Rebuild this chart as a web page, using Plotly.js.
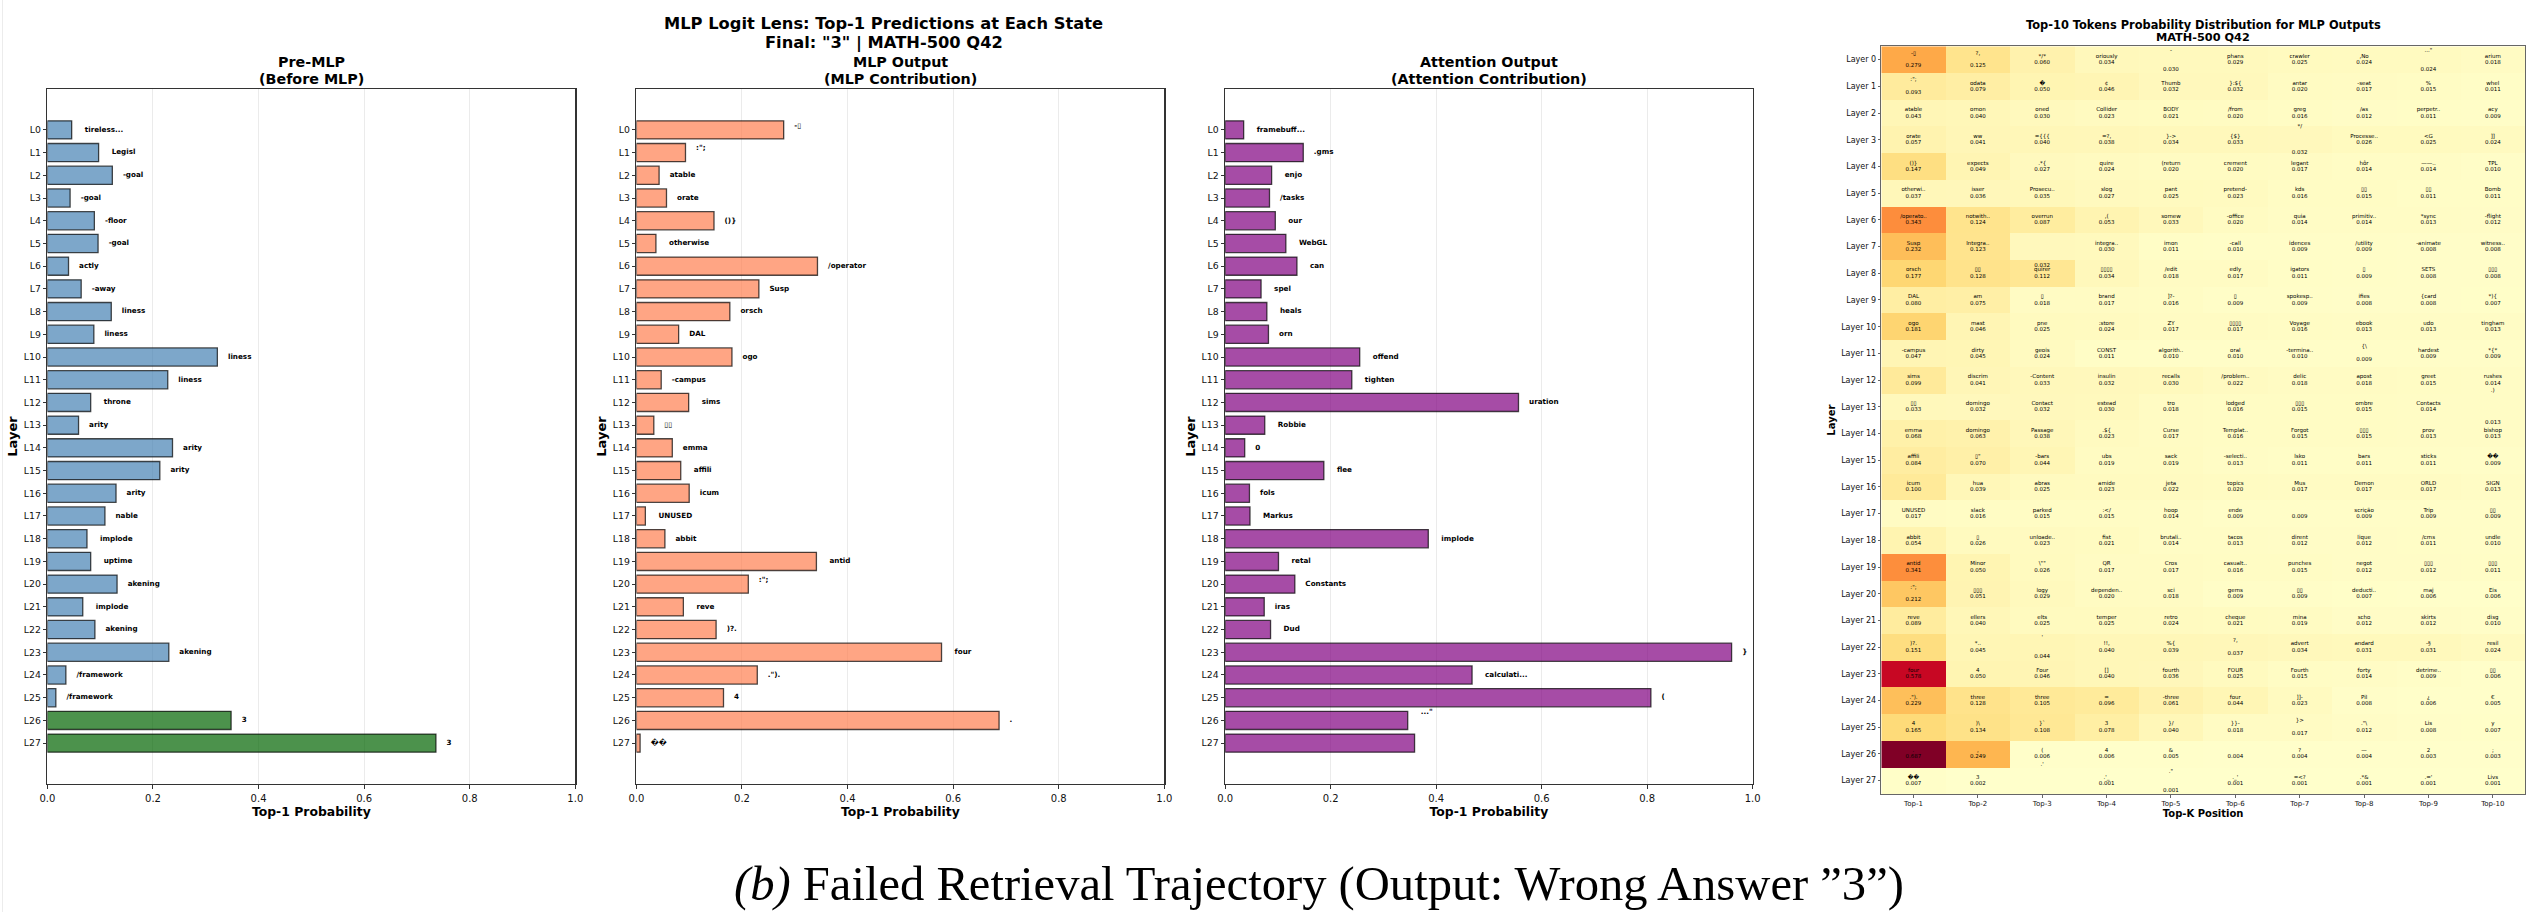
<!DOCTYPE html>
<html>
<head>
<meta charset="utf-8">
<script src="https://cdn.plot.ly/plotly-3.0.1.min.js"></script>
<style>html,body{margin:0;padding:0;background:#fff}#chart{width:2532px;height:912px}</style>
</head>
<body>
<div id="chart"></div>
<script>
// ---------- bar panel data ----------
const layerLabels = ["L0","L1","L2","L3","L4","L5","L6","L7","L8","L9","L10","L11","L12","L13","L14","L15","L16","L17","L18","L19","L20","L21","L22","L23","L24","L25","L26","L27"];
const preMlpValues = [0.046,0.097,0.123,0.043,0.089,0.096,0.040,0.064,0.121,0.088,0.322,0.228,0.082,0.059,0.237,0.213,0.130,0.109,0.075,0.082,0.132,0.067,0.090,0.230,0.035,0.016,0.348,0.736];
const preMlpTokens = ["\u00A0tireless...","\u00A0Legisl","-goal","-goal","-floor","-goal","actly","-away","liness","liness","liness","liness","\u00A0throne","arity","arity","arity","arity","nable","\u00A0implode","\u00A0uptime","akening","\u00A0implode","akening","akening","/framework","/framework","3","3"];
const mlpValues = [0.279,0.093,0.043,0.057,0.147,0.037,0.343,0.232,0.177,0.080,0.181,0.047,0.099,0.033,0.068,0.084,0.100,0.017,0.054,0.341,0.212,0.089,0.151,0.578,0.229,0.165,0.687,0.007];
const mlpTokens = ["-▯\n",":\";\n","atable","orate","()}","\u00A0otherwise","/operator","Susp","orsch","DAL","ogo","-campus","\u00A0sims","▯▯","emma","\u00A0affili","icum","\u00A0UNUSED","abbit","\u00A0antid",":\";\n","\u00A0reve",")?.","\u00A0four",".\").","4",".","��"];
const attnValues = [0.035,0.148,0.088,0.084,0.095,0.115,0.136,0.068,0.079,0.082,0.255,0.240,0.556,0.075,0.037,0.187,0.046,0.047,0.385,0.101,0.132,0.074,0.086,0.960,0.468,0.807,0.346,0.359];
const attnTokens = ["\u00A0framebuff...",".gms","\u00A0enjo","/tasks","\u00A0our","\u00A0WebGL","\u00A0can","\u00A0spel","\u00A0heals","orn","\u00A0offend","\u00A0tighten","uration","\u00A0Robbie","0","\u00A0flee","fols","\u00A0Markus","\u00A0implode","\u00A0retal","Constants","iras","\u00A0Dud","}","\u00A0calculati...","(","\u00A0...\"\n\n",""];
const preMlpColors = ["#4682B4","#006400"];
const barXTicks = [0,0.2,0.4,0.6,0.8,1.0];
const barXTickText = ["0.0","0.2","0.4","0.6","0.8","1.0"];

// ---------- heatmap data ----------
const heatRowLabels = ["Layer 0","Layer 1","Layer 2","Layer 3","Layer 4","Layer 5","Layer 6","Layer 7","Layer 8","Layer 9","Layer 10","Layer 11","Layer 12","Layer 13","Layer 14","Layer 15","Layer 16","Layer 17","Layer 18","Layer 19","Layer 20","Layer 21","Layer 22","Layer 23","Layer 24","Layer 25","Layer 26","Layer 27"];
const heatColLabels = ["Top-1","Top-2","Top-3","Top-4","Top-5","Top-6","Top-7","Top-8","Top-9","Top-10"];
const heatValues = [
[.279,.125,.060,.034,.030,.029,.025,.024,.024,.018],
[.093,.079,.050,.046,.032,.032,.020,.017,.015,.011],
[.043,.040,.030,.023,.021,.020,.016,.012,.011,.009],
[.057,.041,.040,.038,.034,.033,.032,.026,.025,.024],
[.147,.049,.027,.024,.020,.020,.017,.014,.014,.010],
[.037,.036,.035,.027,.025,.023,.016,.015,.011,.011],
[.343,.124,.087,.053,.033,.020,.014,.014,.013,.012],
[.232,.123,.032,.030,.011,.010,.009,.009,.008,.008],
[.177,.128,.112,.034,.018,.017,.011,.009,.008,.008],
[.080,.075,.018,.017,.016,.009,.009,.008,.008,.007],
[.181,.046,.025,.024,.017,.017,.016,.013,.013,.013],
[.047,.045,.024,.011,.010,.010,.010,.009,.009,.009],
[.099,.041,.033,.032,.030,.022,.018,.018,.015,.014],
[.033,.032,.032,.030,.018,.016,.015,.015,.014,.013],
[.068,.063,.038,.023,.017,.016,.015,.015,.013,.013],
[.084,.070,.044,.019,.019,.013,.011,.011,.011,.009],
[.100,.039,.025,.023,.022,.020,.017,.017,.017,.013],
[.017,.016,.015,.015,.014,.009,.009,.009,.009,.009],
[.054,.026,.023,.021,.014,.013,.012,.012,.011,.010],
[.341,.050,.026,.017,.017,.016,.015,.012,.012,.011],
[.212,.051,.029,.020,.018,.009,.009,.007,.006,.006],
[.089,.040,.025,.025,.024,.021,.019,.012,.012,.010],
[.151,.045,.044,.040,.039,.037,.034,.031,.031,.024],
[.578,.050,.046,.040,.036,.025,.015,.014,.009,.006],
[.229,.128,.105,.096,.061,.044,.023,.008,.006,.005],
[.165,.134,.108,.078,.040,.018,.017,.012,.008,.007],
[.687,.249,.006,.006,.005,.004,.004,.004,.003,.003],
[.007,.002,.001,.001,.001,.001,.001,.001,.001,.001]
];
// A "\n" inside a token is a blank line, as in the source labels.
const heatTokens = [
["-▯\n","?,\n","*/*","oriously","-\n\n","phans","crawler",",No","...\"\n\n","arium"],
[":\";\n","odata","�","¢","Thumb","}:${","antar","-seat","%","whel"],
["atable","omon","oned","Collider","BODY","/from","greg","/as","perpetr..","acy"],
["orate","ww","={{{","=?,","}->","{$}","*/\n\n\n","Processe..","<G","]]"],
["()}","expects",".*{","quire","(return","crement","legant","hôr","——..","TPL"],
["otherwi..","isser","Prosecu..","slog","pant","pretend-","kds","▯▯","▯▯","Bomb"],
["/operato..","notwith..","overrun",",(","somew","-office","quia","primitiv..","*sync","-flight"],
["Susp","Integra..","\n\n\n\n\n","integra..","imon","-call","idences","/utility","-animate","witness.."],
["orsch","▯▯","quirer","▯▯▯▯","/edit","edly","igators","▯","SETS","▯▯▯"],
["DAL","am","▯","brand","]?-","▯","spokesp..","ifies","{card","*){"],
["ogo","mast","pne",":store","ZY","▯▯▯▯","Voyage","ebook","udo","tingham"],
["-campus","dirty","geois","CONST","algorith..","oral","-termina..","{\\\n","hardest","*{*"],
["sims","discrim","-Content","insulin","recalls","/problem..","delic","apost","greet","rushes"],
["▯▯","domingo","Contact","estead","tro","lodged","▯▯▯","ombre","Contacts",".)\n\n\n\n"],
["emma","domingo","Passage",".${","Curse","Templat..","Forgot","▯▯▯","prov","bishop"],
["affili","▯\"","-bars","ubs","sack","-selecti..","lsko","bars","sticks","��"],
["icum","hua","abras","amide","jeta","topics","Mus","Demon","ORLD","SIGN"],
["UNUSED","slack","parked",":</","hoop","ende","","scrição","Trip","▯▯"],
["abbit","▯","unloade..","fist","brutali..","tacos","dirent","lique","/cms","undle"],
["antid","Minor","\\\"\"","QR","Cros","casualt..","punches","negot","▯▯▯","▯▯▯"],
[":\";\n","▯▯▯","logy","dependen..","sci","gems","▯▯","deducti..","maj","Eis"],
["reve","ellers","elts","temper","retro","cheque","mina","scho","skirts","disg"],
[")?.","*..","'\n\n","!!,","%{","?,\n","advert","andard","-§","resil"],
["four","4","Four","[]","fourth","FOUR","Fourth","forty","detrime..","▯▯"],
[".\").","three","three","=","-three","four","]]-","Pil","¿","€"],
["4",")\\","}`","3","}/","}}-","}>\n",".\"\\","Lis","y"],
[".",",","(","4","&","","?","—","2",";"],
["��","3",".'\n\n\n\n",".'_",".\"\n\n","._'","=<?",".*&",".='","Livs"]
];
const heatColorStops = ["#ffffcc","#ffeda0","#fed976","#feb24c","#fd8d3c","#fc4e2a","#e31a1c","#bd0026","#800026"];

// ---------- layout constants (pixels) ----------
const W = 2532, H = 912;
const panels = [
  {left:47.4, right:575.3},
  {left:636.4, right:1164.3},
  {left:1225.2, right:1752.7}
];
const heat = {left:1881.3, right:2525, top:46.3, bottom:794};
const barTop = 89, barBottom = 784;
const fam = "DejaVu Sans";
const px = v => v / W, py = v => 1 - v / H;

const yIdx = layerLabels.map((_, i) => i);
const labelGap = 0.02;
const barRowPx = (barBottom - barTop) / 30.6;
const barLinePx = 8.3;
const newlines = s => (s.match(/\n/g) || []).length;
const firstLine = s => s.split("\n")[0];

function barPanel(values, tokens, colors, n) {
  const ax = n === 0 ? "" : String(n + 1);
  return [
    {type:"bar", orientation:"h", x:values, y:yIdx, xaxis:"x"+ax, yaxis:"y"+ax, width:0.8,
     marker:{color:colors, line:{color:"rgba(0,0,0,0.7)", width:1.3}}, hoverinfo:"x+y"},
    {type:"scatter", mode:"text", xaxis:"x"+ax, yaxis:"y"+ax,
     x:values.map(v => v + labelGap),
     y:yIdx.map(i => i - newlines(tokens[i]) * barLinePx / 2 / barRowPx),
     text:tokens.map(firstLine), textposition:"middle right", cliponaxis:false,
     textfont:{family:fam, size:7.2, color:"#000", weight:700}, hoverinfo:"skip"}
  ];
}
const hexA = (c, a) => {
  const n = parseInt(c.slice(1), 16);
  return `rgba(${n >> 16},${(n >> 8) & 255},${n & 255},${a})`;
};
const preColors = layerLabels.map((_, i) => hexA(preMlpColors[preMlpTokens[i] === "3" ? 1 : 0], 0.7));
const mlpColors = layerLabels.map(() => "rgba(255,127,80,0.7)");
const attnColors = layerLabels.map(() => "rgba(128,0,128,0.7)");

// heatmap cell text: first line = token, last line = value, block centred on the row
const heatLinePx = 6.33;
const heatRowPx = (heat.bottom - heat.top) / 28;
const tx = [], tyTok = [], tyVal = [], tTok = [], tVal = [];
heatValues.forEach((row, r) => row.forEach((v, c) => {
  const tok = heatTokens[r][c];
  const half = (newlines(tok) + 1) / 2 * heatLinePx / heatRowPx;
  tx.push(c);
  tyTok.push(r - half);
  tyVal.push(r + half);
  tTok.push(firstLine(tok));
  tVal.push(v.toFixed(3));
}));
const heatFont = {family:fam, size:5.5, color:"#000"};

const traces = [
  ...barPanel(preMlpValues, preMlpTokens, preColors, 0),
  ...barPanel(mlpValues, mlpTokens, mlpColors, 1),
  ...barPanel(attnValues, attnTokens, attnColors, 2),
  {type:"heatmap", z:heatValues, x:heatColLabels.map((_, i) => i), y:heatRowLabels.map((_, i) => i),
   xaxis:"x4", yaxis:"y4", zmin:0, zmax:0.687, showscale:false, hoverinfo:"z",
   colorscale:heatColorStops.map((c, i) => [i / (heatColorStops.length - 1), c])},
  {type:"scatter", mode:"text", x:tx, y:tyTok, text:tTok, xaxis:"x4", yaxis:"y4",
   textposition:"middle center", textfont:heatFont, cliponaxis:false, hoverinfo:"skip"},
  {type:"scatter", mode:"text", x:tx, y:tyVal, text:tVal, xaxis:"x4", yaxis:"y4",
   textposition:"middle center", textfont:heatFont, cliponaxis:false, hoverinfo:"skip"}
];

const barXAxis = p => ({
  domain:[px(p.left), px(p.right)], range:[0,1], tickmode:"array", tickvals:barXTicks, ticktext:barXTickText,
  showgrid:true, gridcolor:"#ebebeb", gridwidth:1, zeroline:false,
  showline:true, mirror:true, linecolor:"#333", linewidth:1.2, ticks:"outside", ticklen:3.5, tickcolor:"#333", tickwidth:1,
  tickfont:{family:fam, size:10, color:"#111"}, ticklabelstandoff:1,
  title:{text:"Top-1 Probability", font:{family:fam, size:12.4, weight:700, color:"#000"}, standoff:4}
});
const barYAxis = (n) => ({
  domain:[py(barBottom), py(barTop)], range:[28.8,-1.8], tickmode:"array", tickvals:yIdx, ticktext:layerLabels,
  showgrid:false, zeroline:false, showline:true, mirror:true, linecolor:"#333", linewidth:1.2,
  ticks:"outside", ticklen:3.5, tickcolor:"#333", tickwidth:1,
  tickfont:{family:fam, size:9.3, color:"#111"}, anchor:"x"+(n === 0 ? "" : n + 1),
  title:{text:"Layer", font:{family:fam, size:13, weight:700, color:"#000"}, standoff:3}
});

const text = (s, x, y, size, bold, extra) => Object.assign({
  text:s, xref:"paper", yref:"paper", x:px(x), y:py(y), xanchor:"center", yanchor:"middle",
  showarrow:false, font:{family:fam, size:size, color:"#000", weight:bold ? 700 : 400}
}, extra || {});

const annotations = [
  text("MLP Logit Lens: Top-1 Predictions at Each State", 883.5, 24, 16.3, true),
  text('Final: "3" | MATH-500 Q42', 883.5, 43, 16.3, true),
  text("Pre-MLP", 311.4, 62, 14.3, true),
  text("(Before MLP)", 311.4, 79, 14.3, true),
  text("MLP Output", 900.4, 62, 14.3, true),
  text("(MLP Contribution)", 900.4, 79, 14.3, true),
  text("Attention Output", 1489, 62, 14.3, true),
  text("(Attention Contribution)", 1489, 79, 14.3, true),
  text("Top-10 Tokens Probability Distribution for MLP Outputs", 2203, 25, 11.4, true),
  text("MATH-500 Q42", 2203, 37.5, 11.3, true),
  {text:"<i>(b)</i> Failed Retrieval Trajectory (Output: Wrong Answer ”3”)", xref:"paper", yref:"paper",
   x:px(1319), y:py(884), xanchor:"center", yanchor:"middle", showarrow:false,
   font:{family:"Liberation Serif", size:48.6, color:"#000"}}
];

const layout = {
  width:W, height:H, margin:{l:0,r:0,t:0,b:0}, paper_bgcolor:"#fff", plot_bgcolor:"#fff",
  showlegend:false, barmode:"overlay", annotations,
  shapes:[{type:"rect", xref:"paper", yref:"paper", x0:px(2), x1:px(3), y0:0, y1:1, fillcolor:"#ececec", line:{width:0}, layer:"below"}],
  xaxis:Object.assign(barXAxis(panels[0]), {anchor:"y"}),
  yaxis:barYAxis(0),
  xaxis2:Object.assign(barXAxis(panels[1]), {anchor:"y2"}),
  yaxis2:barYAxis(1),
  xaxis3:Object.assign(barXAxis(panels[2]), {anchor:"y3"}),
  yaxis3:barYAxis(2),
  xaxis4:{domain:[px(heat.left), px(heat.right)], range:[-0.5,9.5], anchor:"y4", tickmode:"array",
    tickvals:heatColLabels.map((_, i) => i), ticktext:heatColLabels, showgrid:false, zeroline:false,
    showline:true, mirror:true, linecolor:"#666", linewidth:1, ticks:"outside", ticklen:2.5, tickcolor:"#666",
    tickfont:{family:fam, size:7, color:"#111"},
    title:{text:"Top-K Position", font:{family:fam, size:10, weight:700, color:"#000"}, standoff:3}},
  yaxis4:{domain:[py(heat.bottom), py(heat.top)], range:[27.5,-0.5], anchor:"x4", tickmode:"array",
    tickvals:heatRowLabels.map((_, i) => i), ticktext:heatRowLabels, showgrid:false, zeroline:false,
    showline:true, mirror:true, linecolor:"#666", linewidth:1, ticks:"outside", ticklen:2.5, tickcolor:"#666",
    tickfont:{family:fam, size:8, color:"#111"},
    title:{text:"Layer", font:{family:fam, size:10, weight:700, color:"#000"}, standoff:3}}
};
Plotly.newPlot("chart", traces, layout, {staticPlot:true, displayModeBar:false});
</script>
</body>
</html>
